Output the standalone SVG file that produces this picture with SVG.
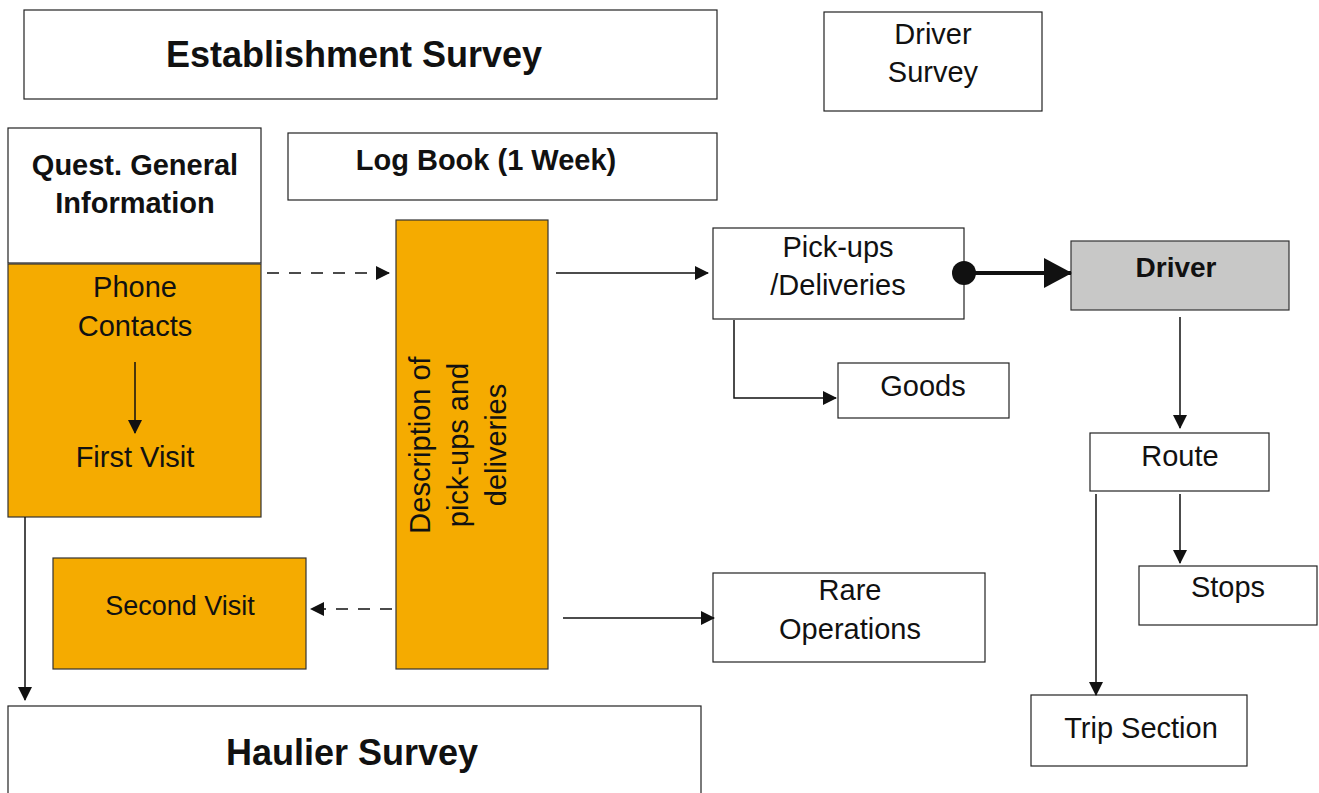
<svg xmlns="http://www.w3.org/2000/svg" width="1319" height="793" viewBox="0 0 1319 793">
<defs>
<style>
.box{fill:#fff;stroke:#222;stroke-width:1.2}
.org{fill:#f5ab00;stroke:#333;stroke-width:1.2}
.grey{fill:#c8c8c7;stroke:#333;stroke-width:1.2}
text{font-family:"Liberation Sans",Arial,sans-serif;fill:#111;text-anchor:middle}
.b{font-weight:bold}
.r{font-size:29px}
.ln{stroke:#111;stroke-width:1.5;fill:none}
.ds{stroke-dasharray:12,10}
</style>
<marker id="ah" markerWidth="14" markerHeight="14" refX="13" refY="7" orient="auto" markerUnits="userSpaceOnUse" viewBox="0 0 14 14">
<path d="M0,0 L14,7 L0,14 Z" fill="#111"/>
</marker>
<marker id="ahl" markerWidth="28" markerHeight="30" refX="27" refY="15" orient="auto" markerUnits="userSpaceOnUse" viewBox="0 0 28 30">
<path d="M0,0 L28,15 L0,30 Z" fill="#111"/>
</marker>
</defs>
<g id="establishment"><rect class="box" x="24" y="10" width="693" height="89"/><text class="b" x="354" y="67" font-size="36">Establishment Survey</text></g>
<g id="driver-survey"><rect class="box" x="824" y="12" width="218" height="99"/><text class="r" x="933" y="44">Driver</text><text class="r" x="933" y="82">Survey</text></g>
<g id="quest"><rect class="box" x="8" y="128" width="253" height="135"/><text class="b" x="135" y="175" font-size="29">Quest. General</text><text class="b" x="135" y="213" font-size="29">Information</text></g>
<g id="phone"><rect class="org" x="8" y="264" width="253" height="253"/><text class="r" x="135" y="297">Phone</text><text class="r" x="135" y="336">Contacts</text><text class="r" x="135" y="467">First Visit</text></g>
<g id="logbook"><rect class="box" x="288" y="133" width="429" height="67"/><text class="b" x="486" y="170" font-size="29">Log Book (1 Week)</text></g>
<g id="description"><rect class="org" x="396" y="220" width="152" height="449"/><g transform="translate(472,445) rotate(-90)"><text class="r" x="0" y="-42">Description of</text><text class="r" x="0" y="-4">pick-ups and</text><text class="r" x="0" y="34">deliveries</text></g></g>
<g id="pickups"><rect class="box" x="713" y="228" width="251" height="91"/><text class="r" x="838" y="257">Pick-ups</text><text class="r" x="838" y="295">/Deliveries</text></g>
<g id="driver"><rect class="grey" x="1071" y="241" width="218" height="69"/><text class="b" x="1176" y="277" font-size="28">Driver</text></g>
<g id="goods"><rect class="box" x="838" y="363" width="171" height="55"/><text class="r" x="923" y="396">Goods</text></g>
<g id="route"><rect class="box" x="1090" y="433" width="179" height="58"/><text class="r" x="1180" y="466">Route</text></g>
<g id="stops"><rect class="box" x="1139" y="566" width="178" height="59"/><text class="r" x="1228" y="597">Stops</text></g>
<g id="trip"><rect class="box" x="1031" y="695" width="216" height="71"/><text class="r" x="1141" y="738">Trip Section</text></g>
<g id="rare"><rect class="box" x="713" y="573" width="272" height="89"/><text class="r" x="850" y="600">Rare</text><text class="r" x="850" y="639">Operations</text></g>
<g id="second"><rect class="org" x="53" y="558" width="253" height="111"/><text x="180" y="615" font-size="27">Second Visit</text></g>
<g id="haulier"><rect class="box" x="8" y="706" width="693" height="100"/><text class="b" x="352" y="765" font-size="36">Haulier Survey</text></g>
<g id="connectors">
<line class="ln" x1="135" y1="362" x2="135" y2="433" marker-end="url(#ah)"/>
<line class="ln ds" x1="267" y1="273" x2="389" y2="273" marker-end="url(#ah)"/>
<line class="ln" x1="556" y1="273" x2="708" y2="273" marker-end="url(#ah)"/>
<circle cx="964" cy="273" r="12" fill="#111"/>
<line x1="964" y1="273" x2="1071" y2="273" stroke="#111" stroke-width="4" marker-end="url(#ahl)"/>
<polyline class="ln" points="734,320 734,398 836,398" marker-end="url(#ah)"/>
<line class="ln" x1="1180" y1="317" x2="1180" y2="428" marker-end="url(#ah)"/>
<line class="ln" x1="1180" y1="494" x2="1180" y2="563" marker-end="url(#ah)"/>
<line class="ln" x1="1096" y1="494" x2="1096" y2="695" marker-end="url(#ah)"/>
<line class="ln" x1="563" y1="618" x2="714" y2="618" marker-end="url(#ah)"/>
<line class="ln ds" x1="392" y1="609" x2="311" y2="609" marker-end="url(#ah)"/>
<line class="ln" x1="25" y1="517" x2="25" y2="700" marker-end="url(#ah)"/>
</g>
</svg>
